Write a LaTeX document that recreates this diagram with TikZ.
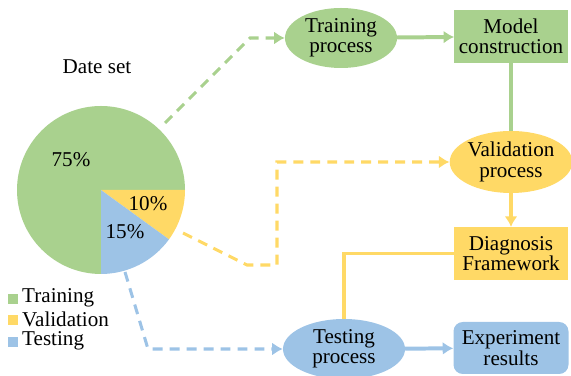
\documentclass[tikz,border=0pt]{standalone}
\usepackage{fontspec}
\setmainfont{Liberation Serif}
\usetikzlibrary{shapes.geometric,arrows.meta}

\definecolor{trainclr}{RGB}{169,209,142}
\definecolor{validclr}{RGB}{255,217,102}
\definecolor{testclr}{RGB}{157,195,230}

\tikzset{
    txt/.style={font=\fontsize{18}{17.5}\selectfont, align=center, inner sep=0pt},
    proc/.style={txt, ellipse, fill=#1, minimum width=3.4cm, minimum height=1.8cm},
    block/.style={txt, rectangle, fill=#1, minimum width=3.4cm, minimum height=1.58cm},
    link/.style={draw=#1, line width=3.4pt},
    dlink/.style={draw=#1, line width=2.6pt, dash pattern=on 8.5pt off 6pt},
    swatch/.style={rectangle, fill=#1, minimum size=9pt, inner sep=0pt}
}

\begin{document}
\begin{tikzpicture}[x=0.03cm, y=0.03cm, >={Latex[length=9pt,width=11pt]}]
        \useasboundingbox (0,0) rectangle (571,376);

        % pie of the data split
        \coordinate (o) at (101,186);
        \fill [trainclr] (o) -- ++(84,0) arc[start angle=0, end angle=270, radius=84] -- cycle;
        \fill [validclr] (o) -- ++(84,0) arc[start angle=0, end angle=-36, radius=84] -- cycle;
        \fill [testclr] (o) -- ++(-36:84) arc[start angle=-36, end angle=-90, radius=84] -- cycle;

        \node [txt] (title) at (97,309) {Date set};
        \node [txt] (p75) at (71,216) {75\%};
        \node [txt] (p10) at (148,172) {10\%};
        \node [txt] (p15) at (125,144) {15\%};

        % legend
        \foreach \clr/\lbl/\y in {trainclr/Training/78, validclr/Validation/57, testclr/Testing/35} {
            \node [swatch=\clr] (sw-\lbl) at (13,\y-1) {};
            \node [txt, anchor=west] (lg-\lbl) at (22,\y) {\lbl};
        }

        % flow chart
        \node [proc=trainclr, minimum width=3.36cm] (train) at (341,338) {Training\\process};
        \node [block=trainclr] (model) at (511,339.5) {Model\\construction};
        \node [proc=validclr, minimum height=1.86cm] (valid) at (511,214) {Validation\\process};
        \node [block=validclr] (diag) at (511,122.5) {Diagnosis\\Framework};
        \node [proc=testclr, minimum width=3.66cm] (test) at (344,27) {Testing\\process};
        \node [block=testclr, rounded corners=8pt, minimum height=1.56cm, minimum width=3.45cm] (result) at (511,28) {Experiment\\results};

        \draw [link=trainclr, ->] (train) -- (model);
        \draw [link=trainclr] (model) -- (valid);
        \draw [link=validclr, ->] (valid) -- (diag);
        \draw [link=validclr] (diag.west) -| (test.north);
        \draw [link=testclr, ->] (test) -- (result);

        % dashed links out of the pie
        \coordinate (gA) at (165,253);
        \coordinate (gB) at (250,338);
        \draw [dlink=trainclr, ->] (gA) -- (gB) -- (train.west);

        \coordinate (yA) at (183,143);
        \coordinate (yB) at (247,111);
        \coordinate (yC) at (277,214);
        \draw [dlink=validclr, ->] (yA) -- (yB) -| (yC) -- (valid.west);

        \coordinate (bA) at (125,104);
        \coordinate (bB) at (148,27);
        \draw [dlink=testclr, ->] (bA) -- (bB) -- (test.west);
    \end{tikzpicture}
\end{document}
